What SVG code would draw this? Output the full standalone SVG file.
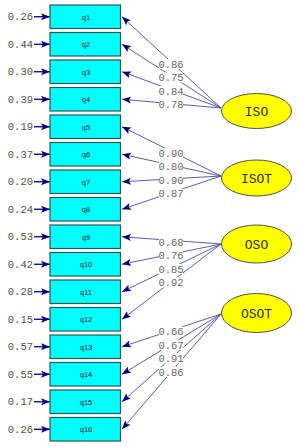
<svg xmlns="http://www.w3.org/2000/svg" width="299" height="447" viewBox="0 0 299 447">
<style>
.box{fill:#00FFFF;stroke:#2F5555;stroke-width:1.2}
.bt{font-family:"Liberation Sans",Arial,sans-serif;font-size:7.5px;fill:#102020;text-anchor:middle}
.el{fill:#FFFF00;stroke:#505050;stroke-width:1}
.et{font-family:"Liberation Mono","Courier New",monospace;font-size:13px;fill:#303030;text-anchor:middle}
.err{stroke:#000080;stroke-width:1.3;marker-end:url(#ah)}
.pl{stroke:#4848B0;stroke-width:0.9;fill:none;marker-end:url(#ah)}
.ev{font-family:"Liberation Mono","Courier New",monospace;font-size:10.5px;fill:#5A4E48;text-anchor:end}
.lv{font-family:"Liberation Mono","Courier New",monospace;font-size:10.5px;fill:#686868;text-anchor:middle}
.lb{fill:#FFFFFF}
</style>
<defs>
<marker id="ah" markerUnits="userSpaceOnUse" markerWidth="10" markerHeight="8" refX="9" refY="4" orient="auto">
<path d="M0,0.5 L9,4 L0,7.5 L2,4 Z" fill="#000080"/>
</marker>
</defs>
<g id="connectors">
<line class="err" x1="34" y1="16.75" x2="50" y2="16.75"/>
<line class="err" x1="34" y1="44.25" x2="50" y2="44.25"/>
<line class="err" x1="34" y1="71.75" x2="50" y2="71.75"/>
<line class="err" x1="34" y1="99.25" x2="50" y2="99.25"/>
<line class="err" x1="34" y1="126.75" x2="50" y2="126.75"/>
<line class="err" x1="34" y1="154.25" x2="50" y2="154.25"/>
<line class="err" x1="34" y1="181.75" x2="50" y2="181.75"/>
<line class="err" x1="34" y1="209.25" x2="50" y2="209.25"/>
<line class="err" x1="34" y1="236.75" x2="50" y2="236.75"/>
<line class="err" x1="34" y1="264.25" x2="50" y2="264.25"/>
<line class="err" x1="34" y1="291.75" x2="50" y2="291.75"/>
<line class="err" x1="34" y1="319.25" x2="50" y2="319.25"/>
<line class="err" x1="34" y1="346.75" x2="50" y2="346.75"/>
<line class="err" x1="34" y1="374.25" x2="50" y2="374.25"/>
<line class="err" x1="34" y1="401.75" x2="50" y2="401.75"/>
<line class="err" x1="34" y1="429.25" x2="50" y2="429.25"/>
<text class="ev" x="33" y="20.25">0.26</text>
<text class="ev" x="33" y="47.75">0.44</text>
<text class="ev" x="33" y="75.25">0.30</text>
<text class="ev" x="33" y="102.75">0.39</text>
<text class="ev" x="33" y="130.25">0.19</text>
<text class="ev" x="33" y="157.75">0.37</text>
<text class="ev" x="33" y="185.25">0.20</text>
<text class="ev" x="33" y="212.75">0.24</text>
<text class="ev" x="33" y="240.25">0.53</text>
<text class="ev" x="33" y="267.75">0.42</text>
<text class="ev" x="33" y="295.25">0.28</text>
<text class="ev" x="33" y="322.75">0.15</text>
<text class="ev" x="33" y="350.25">0.57</text>
<text class="ev" x="33" y="377.75">0.55</text>
<text class="ev" x="33" y="405.25">0.17</text>
<text class="ev" x="33" y="432.75">0.26</text>
<line class="pl" x1="221" y1="108" x2="122" y2="16.75"/>
<line class="pl" x1="221" y1="108" x2="122" y2="44.25"/>
<line class="pl" x1="221" y1="108" x2="122" y2="71.75"/>
<line class="pl" x1="221" y1="108" x2="122" y2="99.25"/>
<line class="pl" x1="221" y1="176" x2="122" y2="126.75"/>
<line class="pl" x1="221" y1="176" x2="122" y2="154.25"/>
<line class="pl" x1="221" y1="176" x2="122" y2="181.75"/>
<line class="pl" x1="221" y1="176" x2="122" y2="209.25"/>
<line class="pl" x1="221" y1="244" x2="122" y2="236.75"/>
<line class="pl" x1="221" y1="244" x2="122" y2="264.25"/>
<line class="pl" x1="221" y1="244" x2="122" y2="291.75"/>
<line class="pl" x1="221" y1="244" x2="122" y2="319.25"/>
<line class="pl" x1="221" y1="314" x2="122" y2="346.75"/>
<line class="pl" x1="221" y1="314" x2="122" y2="374.25"/>
<line class="pl" x1="221" y1="314" x2="122" y2="401.75"/>
<line class="pl" x1="221" y1="314" x2="122" y2="429.25"/>
<rect class="lb" x="159" y="59" width="24" height="10"/>
<rect class="lb" x="159" y="72.5" width="24" height="10"/>
<rect class="lb" x="159" y="86" width="24" height="10"/>
<rect class="lb" x="159" y="99.5" width="24" height="10"/>
<rect class="lb" x="159" y="148" width="24" height="10"/>
<rect class="lb" x="159" y="161.5" width="24" height="10"/>
<rect class="lb" x="159" y="175" width="24" height="10"/>
<rect class="lb" x="159" y="188.5" width="24" height="10"/>
<rect class="lb" x="159" y="237" width="24" height="10"/>
<rect class="lb" x="159" y="250.5" width="24" height="10"/>
<rect class="lb" x="159" y="264" width="24" height="10"/>
<rect class="lb" x="159" y="277.5" width="24" height="10"/>
<rect class="lb" x="159" y="326.5" width="24" height="10"/>
<rect class="lb" x="159" y="340" width="24" height="10"/>
<rect class="lb" x="159" y="353.5" width="24" height="10"/>
<rect class="lb" x="159" y="367" width="24" height="10"/>
<text class="lv" x="171" y="67.5">0.86</text>
<text class="lv" x="171" y="81">0.75</text>
<text class="lv" x="171" y="94.5">0.84</text>
<text class="lv" x="171" y="108">0.78</text>
<text class="lv" x="171" y="156.5">0.90</text>
<text class="lv" x="171" y="170">0.80</text>
<text class="lv" x="171" y="183.5">0.90</text>
<text class="lv" x="171" y="197">0.87</text>
<text class="lv" x="171" y="245.5">0.68</text>
<text class="lv" x="171" y="259">0.76</text>
<text class="lv" x="171" y="272.5">0.85</text>
<text class="lv" x="171" y="286">0.92</text>
<text class="lv" x="171" y="335">0.66</text>
<text class="lv" x="171" y="348.5">0.67</text>
<text class="lv" x="171" y="362">0.91</text>
<text class="lv" x="171" y="375.5">0.86</text>
</g>
<g id="q1"><rect class="box" x="50" y="5" width="70.5" height="23.5"/><text class="bt" x="86" y="19.5">q1</text></g>
<g id="q2"><rect class="box" x="50" y="32.5" width="70.5" height="23.5"/><text class="bt" x="86" y="47">q2</text></g>
<g id="q3"><rect class="box" x="50" y="60" width="70.5" height="23.5"/><text class="bt" x="86" y="74.5">q3</text></g>
<g id="q4"><rect class="box" x="50" y="87.5" width="70.5" height="23.5"/><text class="bt" x="86" y="102">q4</text></g>
<g id="q5"><rect class="box" x="50" y="115" width="70.5" height="23.5"/><text class="bt" x="86" y="129.5">q5</text></g>
<g id="q6"><rect class="box" x="50" y="142.5" width="70.5" height="23.5"/><text class="bt" x="86" y="157">q6</text></g>
<g id="q7"><rect class="box" x="50" y="170" width="70.5" height="23.5"/><text class="bt" x="86" y="184.5">q7</text></g>
<g id="q8"><rect class="box" x="50" y="197.5" width="70.5" height="23.5"/><text class="bt" x="86" y="212">q8</text></g>
<g id="q9"><rect class="box" x="50" y="225" width="70.5" height="23.5"/><text class="bt" x="86" y="239.5">q9</text></g>
<g id="q10"><rect class="box" x="50" y="252.5" width="70.5" height="23.5"/><text class="bt" x="86" y="267">q10</text></g>
<g id="q11"><rect class="box" x="50" y="280" width="70.5" height="23.5"/><text class="bt" x="86" y="294.5">q11</text></g>
<g id="q12"><rect class="box" x="50" y="307.5" width="70.5" height="23.5"/><text class="bt" x="86" y="322">q12</text></g>
<g id="q13"><rect class="box" x="50" y="335" width="70.5" height="23.5"/><text class="bt" x="86" y="349.5">q13</text></g>
<g id="q14"><rect class="box" x="50" y="362.5" width="70.5" height="23.5"/><text class="bt" x="86" y="377">q14</text></g>
<g id="q15"><rect class="box" x="50" y="390" width="70.5" height="23.5"/><text class="bt" x="86" y="404.5">q15</text></g>
<g id="q16"><rect class="box" x="50" y="417.5" width="70.5" height="23.5"/><text class="bt" x="86" y="432">q16</text></g>
<g id="ISO"><ellipse class="el" cx="256.5" cy="111" rx="35" ry="17.5"/><text class="et" x="256.5" y="115.5">ISO</text></g>
<g id="ISOT"><ellipse class="el" cx="256.5" cy="178" rx="35" ry="18"/><text class="et" x="256.5" y="182.5">ISOT</text></g>
<g id="OSO"><ellipse class="el" cx="256.5" cy="244" rx="35" ry="19"/><text class="et" x="256.5" y="248.5">OSO</text></g>
<g id="OSOT"><ellipse class="el" cx="256.5" cy="313" rx="35" ry="19.5"/><text class="et" x="256.5" y="317.5">OSOT</text></g>
</svg>
